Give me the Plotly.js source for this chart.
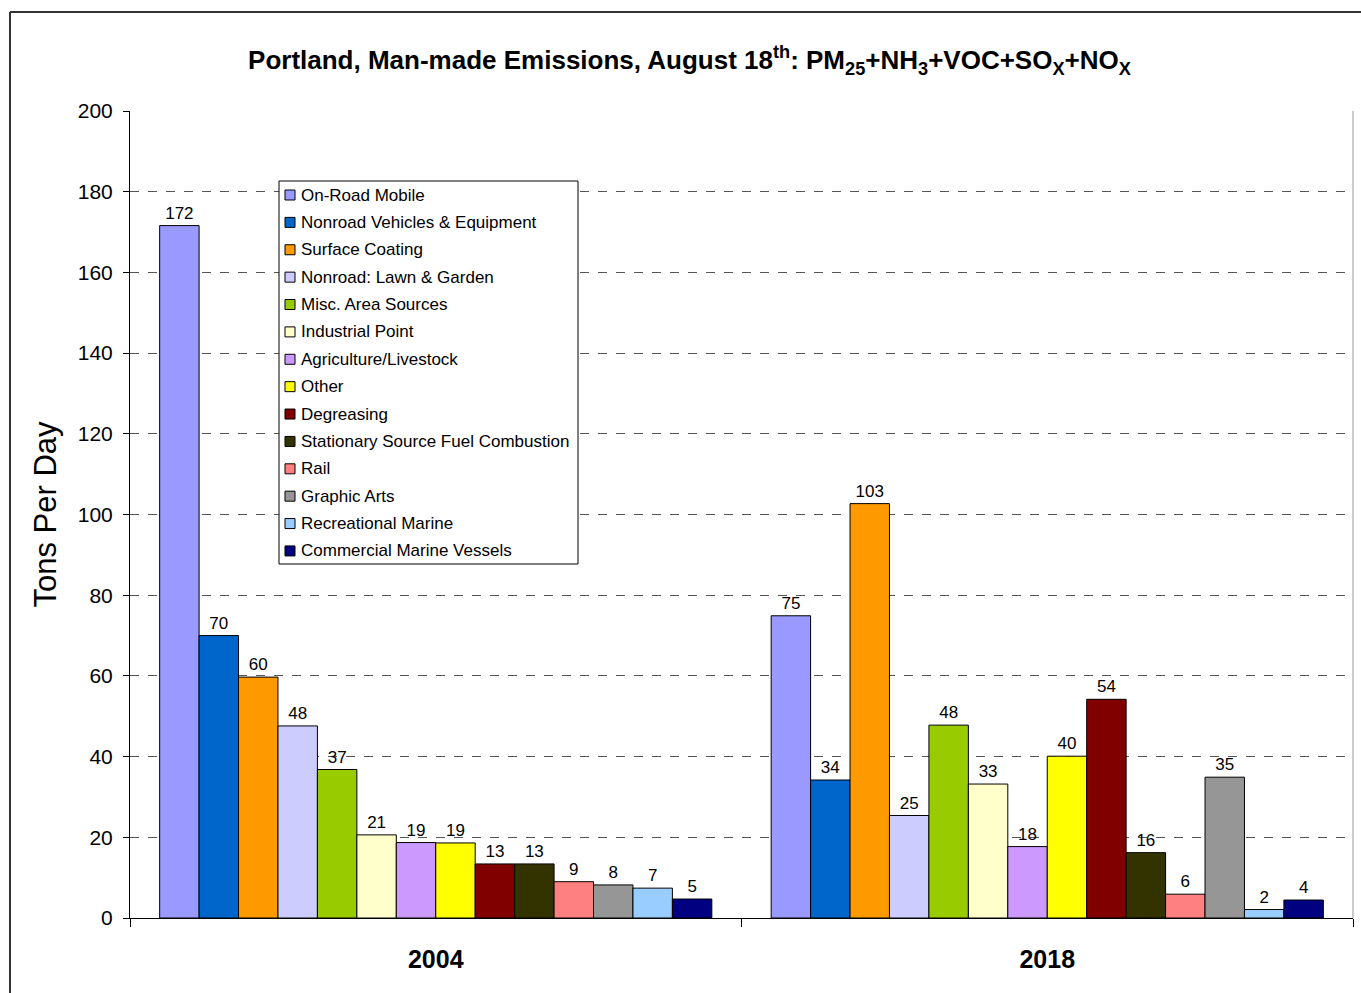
<!DOCTYPE html>
<html>
<head>
<meta charset="utf-8">
<script src="https://cdn.plot.ly/plotly-3.0.1.min.js"></script>
<style>html,body{margin:0;padding:0;background:#fff;}#chart{width:1361px;height:993px;}</style>
</head>
<body>
<div id="chart"></div>
<script>
const years = ["2004", "2018"];
const seriesNames = [
  "On-Road Mobile", "Nonroad Vehicles & Equipment", "Surface Coating",
  "Nonroad: Lawn & Garden", "Misc. Area Sources", "Industrial Point",
  "Agriculture/Livestock", "Other", "Degreasing",
  "Stationary Source Fuel Combustion", "Rail", "Graphic Arts",
  "Recreational Marine", "Commercial Marine Vessels"
];
const values2004 = [171.6, 70.0, 59.7, 47.6, 36.8, 20.6, 18.7, 18.6, 13.4, 13.4, 9.0, 8.2, 7.4, 4.7];
const values2018 = [74.9, 34.2, 102.7, 25.4, 47.8, 33.2, 17.7, 40.1, 54.2, 16.2, 5.9, 34.9, 2.1, 4.45];
const seriesColors = [
  "#9999FF", "#0066CC", "#FF9900", "#CCCCFF", "#99CC00", "#FFFFCC",
  "#CC99FF", "#FFFF00", "#800000", "#333300", "#FF8080", "#969696",
  "#99CCFF", "#000080"
];

const FONT = "Arial, 'Liberation Sans', sans-serif";

// plot area geometry (pixels) used for the hand-built legend box
const W = 1361, H = 993;
const M = { l: 130, r: 8, t: 111, b: 75 };
const PW = W - M.l - M.r, PH = H - M.t - M.b;
const px = v => (v - M.l) / PW;
const py = v => (H - M.b - v) / PH;

const traces = seriesNames.map((name, i) => ({
  type: "bar",
  name: name,
  x: years,
  y: [values2004[i], values2018[i]],
  marker: { color: seriesColors[i], line: { color: "#000", width: 1 } },
  texttemplate: "%{y:.0f}",
  textposition: "outside",
  textfont: { family: FONT, size: 17, color: "#000" },
  cliponaxis: false,
  showlegend: false,
  hoverinfo: "skip"
}));

// legend (box, swatches, names)
const LEG = { left: 279, right: 578, top: 181, bottom: 564, first: 195, step: 27.38, sw: 10, swLeft: 285, textLeft: 300 };
const shapes = [
  { type: "line", xref: "paper", yref: "paper", x0: 1, x1: 1, y0: 0, y1: 1,
    line: { color: "#999", width: 1 } },
  { type: "line", xref: "paper", yref: "paper", x0: px(10), x1: 1.02, y0: py(12), y1: py(12),
    line: { color: "#333", width: 2 } },
  { type: "line", xref: "paper", yref: "paper", x0: px(10), x1: px(10), y0: py(12), y1: -0.2,
    line: { color: "#333", width: 2 } },
  { type: "rect", xref: "paper", yref: "paper", x0: px(LEG.left), x1: px(LEG.right), y0: py(LEG.bottom), y1: py(LEG.top),
    fillcolor: "#fff", line: { color: "#000", width: 1 }, layer: "above" }
];
const annotations = [];
seriesNames.forEach((name, i) => {
  const cy = LEG.first + i * LEG.step;
  shapes.push({ type: "rect", xref: "paper", yref: "paper",
    x0: px(LEG.swLeft), x1: px(LEG.swLeft + LEG.sw), y0: py(cy + LEG.sw / 2), y1: py(cy - LEG.sw / 2),
    fillcolor: seriesColors[i], line: { color: "#000", width: 1 }, layer: "above" });
  annotations.push({ xref: "paper", yref: "paper", x: px(LEG.textLeft), y: py(cy),
    xanchor: "left", yanchor: "middle", showarrow: false, text: name, borderpad: 0,
    font: { family: FONT, size: 17, color: "#000" } });
});

const layout = {
  width: W,
  height: H,
  margin: M,
  paper_bgcolor: "#fff",
  plot_bgcolor: "#fff",
  font: { family: FONT, color: "#000" },
  barmode: "group",
  bargap: 0.097,
  bargroupgap: 0,
  showlegend: false,
  title: {
    text: "Portland, Man-made Emissions, August 18<sup>th</sup>: PM<sub>25</sub>+NH<sub>3</sub>+VOC+SO<sub>X</sub>+NO<sub>X</sub>",
    font: { family: FONT, size: 26, color: "#000", weight: "bold" },
    x: 0.5066, xref: "container", xanchor: "center",
    y: 0.9396, yref: "container", yanchor: "middle"
  },
  xaxis: {
    type: "category",
    showline: true,
    linecolor: "#000",
    linewidth: 1,
    ticks: "outside",
    tickson: "boundaries",
    ticklen: 8,
    tickcolor: "#000",
    ticklabelstandoff: 19,
    tickfont: { family: FONT, size: 25, color: "#000", weight: "bold" },
    showgrid: false,
    zeroline: false,
    fixedrange: true
  },
  yaxis: {
    range: [0, 200],
    dtick: 20,
    showline: true,
    linecolor: "#000",
    linewidth: 1,
    ticks: "outside",
    ticklen: 6,
    tickcolor: "#000",
    ticklabelstandoff: 6,
    tickfont: { family: FONT, size: 21, color: "#000" },
    showgrid: true,
    gridcolor: "#555",
    griddash: "dash",
    gridwidth: 1,
    zeroline: false,
    title: { text: "Tons Per Day", font: { family: FONT, size: 31, color: "#000" }, standoff: 11 },
    fixedrange: true
  },
  shapes: shapes,
  annotations: annotations
};

Plotly.newPlot("chart", traces, layout, { displayModeBar: false, staticPlot: true });
</script>
</body>
</html>
